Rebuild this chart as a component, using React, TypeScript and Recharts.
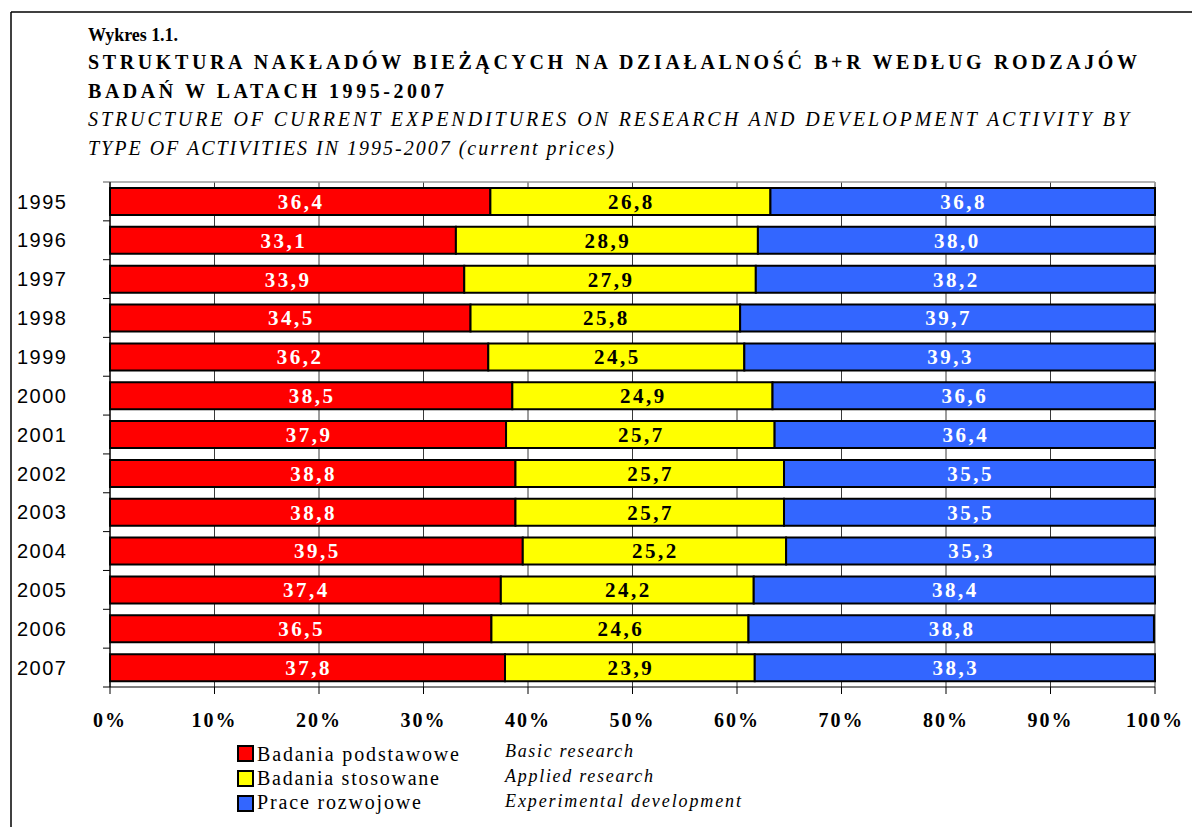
import React from 'react';
import { BarChart, Bar, XAxis, YAxis, CartesianGrid, LabelList, Legend } from 'recharts';

const years = ['1995', '1996', '1997', '1998', '1999', '2000', '2001', '2002', '2003', '2004', '2005', '2006', '2007'];
const basic = [36.4, 33.1, 33.9, 34.5, 36.2, 38.5, 37.9, 38.8, 38.8, 39.5, 37.4, 36.5, 37.8];
const applied = [26.8, 28.9, 27.9, 25.8, 24.5, 24.9, 25.7, 25.7, 25.7, 25.2, 24.2, 24.6, 23.9];
const development = [36.8, 38.0, 38.2, 39.7, 39.3, 36.6, 36.4, 35.5, 35.5, 35.3, 38.4, 38.8, 38.3];
const xTicks = [0, 10, 20, 30, 40, 50, 60, 70, 80, 90, 100];
const seriesKeys = ['basic', 'applied', 'development'];
const seriesNames = ['Badania podstawowe', 'Badania stosowane', 'Prace rozwojowe'];
const seriesNamesEn = ['Basic research', 'Applied research', 'Experimental development'];
const seriesColors = ['#FF0000', '#FFFF00', '#3366FF'];
const labelColors = ['#FFFFFF', '#000000', '#FFFFFF'];
const titleLines = [
  'Wykres 1.1.',
  'STRUKTURA NAKŁADÓW  BIEŻĄCYCH NA DZIAŁALNOŚĆ B+R WEDŁUG RODZAJÓW',
  'BADAŃ W LATACH 1995-2007',
  'STRUCTURE OF CURRENT EXPENDITURES ON RESEARCH AND DEVELOPMENT ACTIVITY BY',
  'TYPE OF ACTIVITIES IN 1995-2007 (current prices)',
];

const data = years.map((y, i) => ({
  year: y,
  basic: basic[i],
  applied: applied[i],
  development: development[i],
}));

const SERIF = "'Liberation Serif', 'Times New Roman', serif";
const SANS = "'Liberation Sans', Arial, sans-serif";

const fmt = (v: number) => v.toFixed(1).replace('.', ',');

const YearTick = (props: any) => {
  const { y, payload, index } = props;
  const half = payload && payload.offset ? payload.offset : 19.42;
  const axisX = 110;
  const isLast = payload && payload.value === years[years.length - 1];
  return (
    <g>
      <line x1={axisX - 7} y1={y - half} x2={axisX} y2={y - half} stroke={index === 0 ? '#555' : '#000'} strokeWidth={1} />
      {isLast ? <line x1={axisX - 7} y1={y + half} x2={axisX} y2={y + half} stroke="#000" strokeWidth={1} /> : null}
      <text x={17} y={y} dy="0.36em" textAnchor="start" fontFamily={SANS} fontSize={20} letterSpacing={1.5} fill="#000">
        {payload.value}
      </text>
    </g>
  );
};

const PctTick = (props: any) => (
  <text x={props.x} y={props.y} textAnchor="middle" fontFamily={SERIF} fontWeight="bold" fontSize={20} letterSpacing={2} fill="#000">
    {`${props.payload.value}%`}
  </text>
);

const makeLabel = (fill: string) => (props: any) => {
  const { x, y, width, height, value } = props;
  return (
    <text
      x={Number(x) + Number(width) / 2 + 1}
      y={Number(y) + Number(height) / 2}
      dy="0.35em"
      textAnchor="middle"
      fill={fill}
      fontFamily={SERIF}
      fontWeight="bold"
      fontSize={21}
      letterSpacing={2.5}
    >
      {fmt(Number(value))}
    </text>
  );
};

const plLengths = [202, 182, 164];
const enLengths = [128, 148, 236];

const LegendContent = () => (
  <svg width={540} height={85} style={{ display: 'block', overflow: 'visible' }}>
    {seriesNames.map((n, i) => (
      <g key={n}>
        <rect x={8} y={8 + i * 25} width={15} height={15} fill={seriesColors[i]} stroke="#000" strokeWidth={2} />
        <text x={27} y={23 + i * 24} fontFamily={SERIF} fontSize={20} textLength={plLengths[i]} lengthAdjust="spacing" fill="#000">
          {n}
        </text>
        <text x={275} y={19 + i * 25} fontFamily={SERIF} fontStyle="italic" fontSize={18} textLength={enLengths[i]} lengthAdjust="spacing" fill="#000">
          {seriesNamesEn[i]}
        </text>
      </g>
    ))}
  </svg>
);

const titleSpecs = [
  { y: 41, len: 90, size: 18, bold: true, italic: false },
  { y: 69, len: 1049, size: 20, bold: true, italic: false },
  { y: 98, len: 356, size: 20, bold: true, italic: false },
  { y: 126, len: 1041, size: 20, bold: false, italic: true },
  { y: 155, len: 526, size: 20, bold: false, italic: true },
];

export default function App() {
  return (
    <div style={{ position: 'absolute', left: 0, top: 0, width: 1192, height: 827, background: '#fff', overflow: 'hidden' }}>
      <BarChart
        width={1192}
        height={827}
        data={data}
        layout="vertical"
        margin={{ top: 182, right: 37, bottom: 80, left: 109 }}
        barSize={27}
      >
        <CartesianGrid horizontal={false} vertical={true} stroke="#3a3a3a" strokeWidth={1} />
        <CartesianGrid
          vertical={false}
          horizontal={true}
          stroke="#9a9a9a"
          strokeWidth={1.5}
          horizontalCoordinatesGenerator={(p: any) => [p.offset.top]}
        />
        <XAxis
          type="number"
          domain={[0, 100]}
          ticks={xTicks}
          interval={0}
          height={60}
          axisLine={{ stroke: '#000', strokeWidth: 1.2 }}
          tickLine={{ stroke: '#000' }}
          tickSize={7}
          tickMargin={33}
          tick={<PctTick />}
        />
        <YAxis
          type="category"
          dataKey="year"
          width={1}
          axisLine={{ stroke: '#000', strokeWidth: 1.2 }}
          tickLine={false}
          interval={0}
          tick={<YearTick />}
        />
        {seriesKeys.map((k, i) => (
          <Bar
            key={k}
            dataKey={k}
            name={seriesNames[i]}
            stackId="s"
            fill={seriesColors[i]}
            stroke="#000"
            strokeWidth={2}
            isAnimationActive={false}
          >
            <LabelList dataKey={k} content={makeLabel(labelColors[i])} />
          </Bar>
        ))}
        <Legend
          layout="horizontal"
          verticalAlign="middle"
          align="center"
          content={<LegendContent />}
          wrapperStyle={{ position: 'absolute', left: 230, top: 738, width: 540, height: 85 }}
        />
      </BarChart>
      <svg width={1192} height={827} style={{ position: 'absolute', left: 0, top: 0, pointerEvents: 'none' }}>
        <line x1={11} y1={12} x2={1192} y2={12} stroke="#000" strokeWidth={1.5} />
        <line x1={11} y1={12} x2={11} y2={827} stroke="#000" strokeWidth={1.5} />
        {titleLines.map((t, i) => {
          const s = titleSpecs[i];
          return (
            <text
              key={i}
              x={88}
              y={s.y}
              fontFamily={SERIF}
              fontSize={s.size}
              fontWeight={s.bold ? 'bold' : 'normal'}
              fontStyle={s.italic ? 'italic' : 'normal'}
              textLength={s.len}
              lengthAdjust="spacing"
              fill="#000"
            >
              {t}
            </text>
          );
        })}
      </svg>
    </div>
  );
}
